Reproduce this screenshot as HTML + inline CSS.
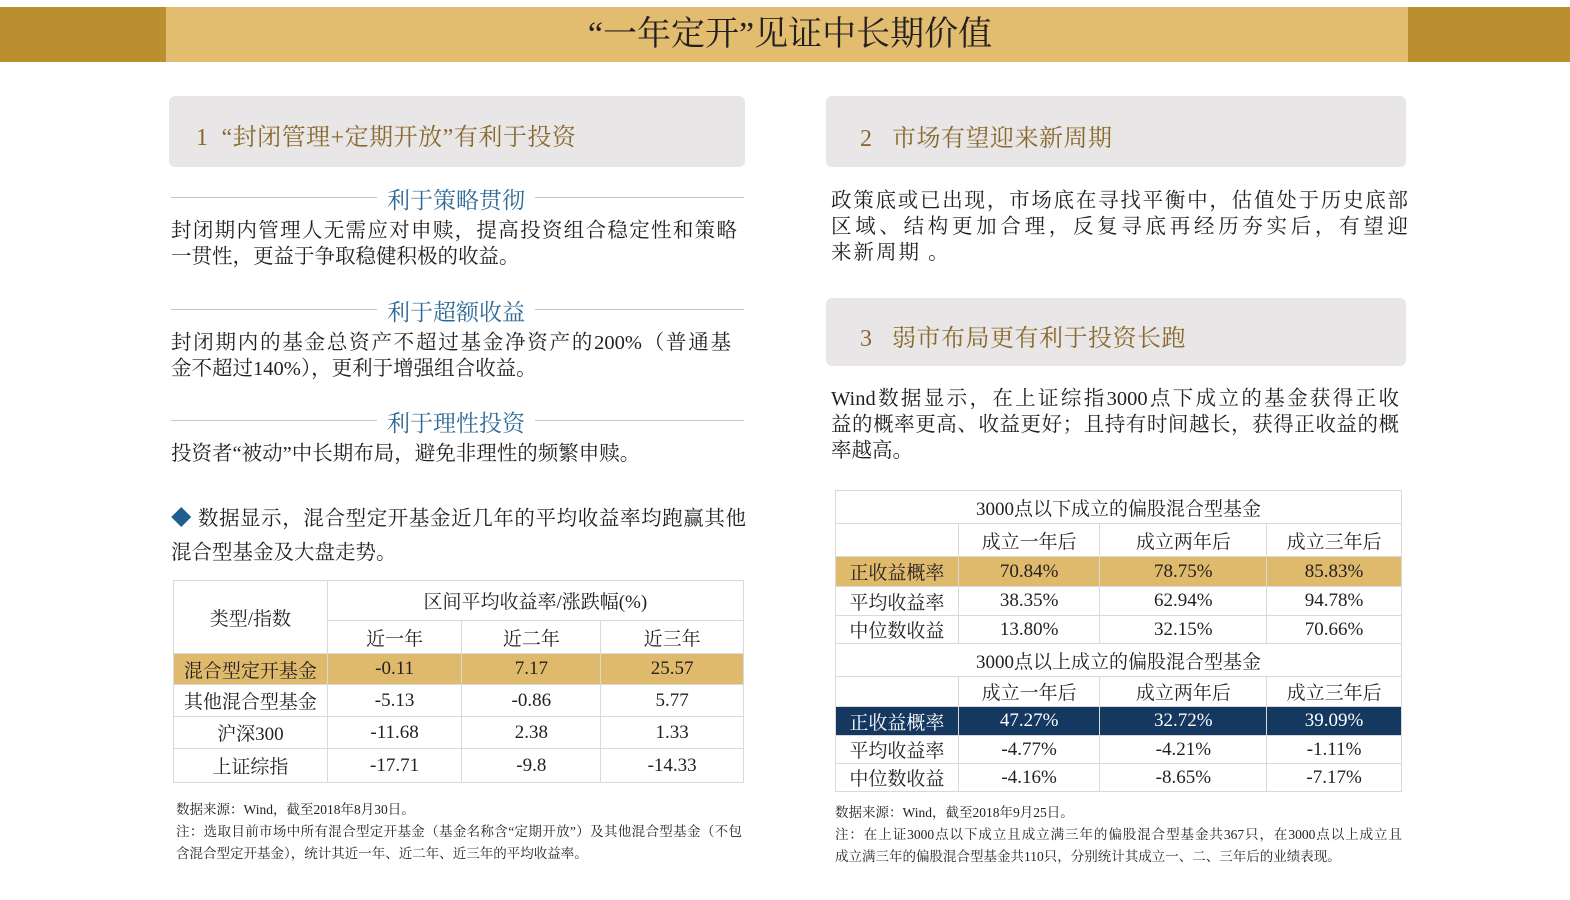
<!DOCTYPE html>
<html><head><meta charset="utf-8"><style>
*{margin:0;padding:0;box-sizing:border-box}
body{width:1570px;height:900px;background:#fff;position:relative;overflow:hidden;font-family:"Liberation Serif","Noto Serif CJK SC",serif;color:#231f20}
.a{position:absolute;white-space:nowrap}
.j{text-align:justify;text-align-last:justify}
.box{position:absolute;background:#e8e6e7;border-radius:6px}
.bt{position:absolute;font-size:24px;color:#8a6a2c;white-space:nowrap;letter-spacing:0.5px}
.sub{position:absolute;height:1px;background:#b9c7d8}
.st{position:absolute;font-size:23px;color:#2f6a97;background:#fff;padding:0 10px;white-space:nowrap}
.p{font-size:20.5px;line-height:26px}
table{position:absolute;border-collapse:collapse;font-size:19px}
td{border:1px solid #d9d9d9;text-align:center;padding:0}
.g td{background:#dfba6c}
.n td{background:#143860;color:#fff}
.note{font-size:13.5px;line-height:22px}
</style></head><body>
<div class="a" style="left:0;top:7px;width:166px;height:55px;background:#b98f2f"></div>
<div class="a" style="left:166px;top:7px;width:1242px;height:55px;background:#e2bc6f"></div>
<div class="a" style="left:1408px;top:7px;width:162px;height:55px;background:#b98f2f"></div>
<div class="a" style="left:0;top:13px;width:1580px;text-align:center;font-size:34px;line-height:44px">“一年定开”见证中长期价值</div>

<div class="box" style="left:169px;top:96px;width:576px;height:71px"></div>
<div class="bt" style="left:196px;top:117px">1 &nbsp;“封闭管理+定期开放”有利于投资</div>
<div class="box" style="left:826px;top:96px;width:580px;height:71px"></div>
<div class="bt" style="left:860px;top:118px">2 &nbsp; 市场有望迎来新周期</div>
<div class="box" style="left:826px;top:298px;width:580px;height:68px"></div>
<div class="bt" style="left:860px;top:318px">3 &nbsp; 弱市布局更有利于投资长跑</div>

<div class="sub" style="left:171px;top:197px;width:573px"></div>
<div class="st" style="left:377px;top:182px">利于策略贯彻</div>
<div class="a p j" style="left:171px;top:218px;width:566px">封闭期内管理人无需应对申赎，提高投资组合稳定性和策略</div>
<div class="a p" style="left:171px;top:244px">一贯性，更益于争取稳健积极的收益。</div>

<div class="sub" style="left:171px;top:309px;width:573px"></div>
<div class="st" style="left:377px;top:294px">利于超额收益</div>
<div class="a p j" style="left:171px;top:330px;width:560px">封闭期内的基金总资产不超过基金净资产的200%（普通基</div>
<div class="a p" style="left:171px;top:356px">金不超过140%），更利于增强组合收益。</div>

<div class="sub" style="left:171px;top:420px;width:573px"></div>
<div class="st" style="left:377px;top:405px">利于理性投资</div>
<div class="a p" style="left:171px;top:441px">投资者“被动”中长期布局，避免非理性的频繁申赎。</div>

<div class="a p j" style="left:171px;top:506px;width:575px"><span style="color:#1f5f8f">◆</span> 数据显示，混合型定开基金近几年的平均收益率均跑赢其他</div>
<div class="a p" style="left:171px;top:540px">混合型基金及大盘走势。</div>

<table style="left:173px;top:580px;width:571px">
<colgroup><col style="width:154px"><col style="width:135px"><col style="width:139px"><col style="width:143px"></colgroup>
<tr style="height:40px"><td rowspan="2">类型/指数</td><td colspan="3">区间平均收益率/涨跌幅(%)</td></tr>
<tr style="height:33px"><td>近一年</td><td>近二年</td><td>近三年</td></tr>
<tr class="g" style="height:31px"><td>混合型定开基金</td><td>-0.11</td><td>7.17</td><td>25.57</td></tr>
<tr style="height:32px"><td>其他混合型基金</td><td>-5.13</td><td>-0.86</td><td>5.77</td></tr>
<tr style="height:32px"><td>沪深300</td><td>-11.68</td><td>2.38</td><td>1.33</td></tr>
<tr style="height:34px"><td>上证综指</td><td>-17.71</td><td>-9.8</td><td>-14.33</td></tr>
</table>
<div class="a note" style="left:176px;top:799px">数据来源：Wind，截至2018年8月30日。</div>
<div class="a note j" style="left:176px;top:821px;width:566px">注：选取目前市场中所有混合型定开基金（基金名称含“定期开放”）及其他混合型基金（不包</div>
<div class="a note" style="left:176px;top:843px">含混合型定开基金），统计其近一年、近二年、近三年的平均收益率。</div>

<div class="a p j" style="left:831px;top:188px;width:577px">政策底或已出现，市场底在寻找平衡中，估值处于历史底部</div>
<div class="a p j" style="left:831px;top:214px;width:577px">区域、结构更加合理，反复寻底再经历夯实后，有望迎</div>
<div class="a p" style="left:831px;top:240px;letter-spacing:2px">来新周期 。</div>

<div class="a p j" style="left:831px;top:386px;width:568px">Wind数据显示，在上证综指3000点下成立的基金获得正收</div>
<div class="a p j" style="left:831px;top:412px;width:568px">益的概率更高、收益更好；且持有时间越长，获得正收益的概</div>
<div class="a p" style="left:831px;top:438px">率越高。</div>

<table style="left:835px;top:490px;width:567px">
<colgroup><col style="width:123px"><col style="width:142px"><col style="width:167px"><col style="width:135px"></colgroup>
<tr style="height:33px"><td colspan="4">3000点以下成立的偏股混合型基金</td></tr>
<tr style="height:33px"><td></td><td>成立一年后</td><td>成立两年后</td><td>成立三年后</td></tr>
<tr class="g" style="height:30px"><td>正收益概率</td><td>70.84%</td><td>78.75%</td><td>85.83%</td></tr>
<tr style="height:29px"><td>平均收益率</td><td>38.35%</td><td>62.94%</td><td>94.78%</td></tr>
<tr style="height:28px"><td>中位数收益</td><td>13.80%</td><td>32.15%</td><td>70.66%</td></tr>
<tr style="height:33px"><td colspan="4">3000点以上成立的偏股混合型基金</td></tr>
<tr style="height:30px"><td></td><td>成立一年后</td><td>成立两年后</td><td>成立三年后</td></tr>
<tr class="n" style="height:29px"><td>正收益概率</td><td>47.27%</td><td>32.72%</td><td>39.09%</td></tr>
<tr style="height:26px"><td>平均收益率</td><td>-4.77%</td><td>-4.21%</td><td>-1.11%</td></tr>
<tr style="height:28px"><td>中位数收益</td><td>-4.16%</td><td>-8.65%</td><td>-7.17%</td></tr>
</table>
<div class="a note" style="left:835px;top:802px">数据来源：Wind，截至2018年9月25日。</div>
<div class="a note j" style="left:835px;top:824px;width:567px">注：在上证3000点以下成立且成立满三年的偏股混合型基金共367只，在3000点以上成立且</div>
<div class="a note" style="left:835px;top:846px">成立满三年的偏股混合型基金共110只，分别统计其成立一、二、三年后的业绩表现。</div>
</body></html>
